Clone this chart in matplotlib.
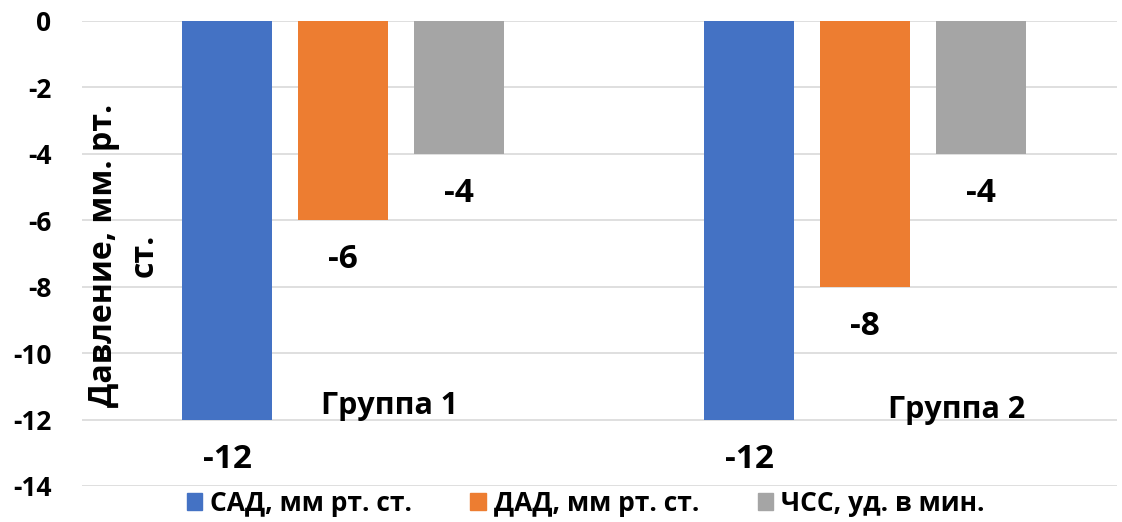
import numpy as np
import matplotlib.pyplot as plt
from matplotlib.patches import Patch

# Change of blood pressure and heart rate per group
groups = ["Группа 1", "Группа 2"]
series_names = ["САД, мм рт. ст.", "ДАД, мм рт. ст.", "ЧСС, уд. в мин."]
sad = [-12, -12]
dad = [-6, -8]
chss = [-4, -4]
colors = ["#4472C4", "#ED7D31", "#A5A5A5"]

plt.rcParams["font.family"] = ["Open Sans", "DejaVu Sans"]
plt.rcParams["font.weight"] = "bold"

fig = plt.figure(figsize=(11.22, 5.22), dpi=100)
ax = fig.add_axes([0.073, 0.069, 0.9225, 0.891])

x = np.arange(len(groups))
width = 0.172
step = 0.222
for i, (vals, name, c) in enumerate(zip([sad, dad, chss], series_names, colors)):
    pos = x + (i - 1) * step
    ax.bar(pos, vals, width, color=c, label=name, zorder=2)
    for p, v in zip(pos, vals):
        ax.text(p, v - 0.7, f"{v}", ha="center", va="top",
                fontsize=24, fontweight="bold")

# category names sit inside the plot, near the bottom of the bars
ax.text(x[0] + 0.09, -11.6, groups[0], ha="center", va="center", fontsize=22, fontweight="bold")
ax.text(x[1] + 0.175, -11.7, groups[1], ha="center", va="center", fontsize=22, fontweight="bold")

ax.set_xlim(-0.5, 1.483)
ax.set_ylim(-14, 0)
ax.set_yticks(np.arange(-14, 1, 2))
ax.set_yticklabels([str(t) for t in range(-14, 1, 2)], fontsize=19, fontweight="bold")
ax.set_xticks([])
ax.tick_params(axis="y", length=0, pad=22)
ax.grid(axis="y", color="#D9D9D9", linewidth=1.2, zorder=0)
for s in ax.spines.values():
    s.set_visible(False)

ax.text(-0.42, -7.05, "Давление, мм. рт.\nст.", rotation=90, ha="center", va="center",
        fontsize=23, fontweight="bold", multialignment="center", linespacing=1.3)

handles = [Patch(color=c, label=n) for c, n in zip(colors, series_names)]
fig.legend(handles=handles, loc="lower center", bbox_to_anchor=(0.522, -0.035), ncol=3,
           frameon=False, prop={"size": 19, "weight": "bold"},
           handlelength=0.6, handleheight=0.6, handletextpad=0.3, columnspacing=2.2)

fig.savefig("out.png", dpi=100)
